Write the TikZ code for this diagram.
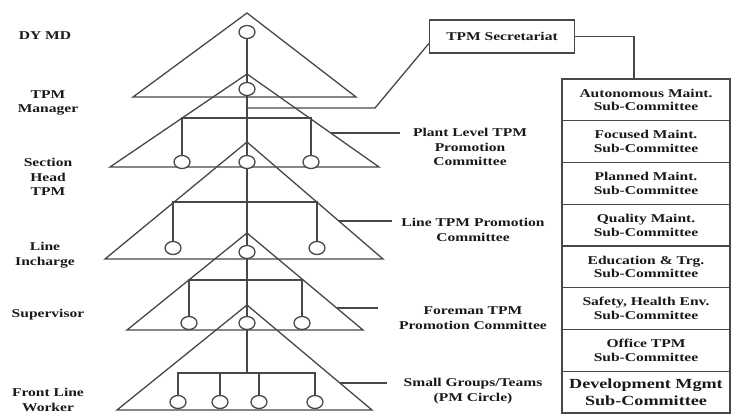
\documentclass[tikz,border=0pt]{standalone}
\usepackage{fontspec}
\setmainfont{Liberation Serif}[FakeStretch=1.3]
\usetikzlibrary{shapes.geometric}

\begin{document}
\begin{tikzpicture}[x=1bp, y=-1bp, line width=1.3bp, color=black!72,
    memb/.style={ellipse, draw, fill=white, minimum width=16bp, minimum height=13bp, inner sep=0pt},
    rank/.style={align=center, text=black!90, font=\bfseries\fontsize{12}{14.5}\selectfont},
    sub/.style={draw, minimum width=168bp, minimum height=41.75bp, inner sep=0pt, align=center,
                text=black!90, font=\bfseries\fontsize{12}{14}\selectfont}]
            \useasboundingbox (0,0) rectangle (734,417);

            % levels
            \draw (247,13)  -- (133,97)  -- (356,97)  -- cycle;
            \draw (247,74)  -- (110,167) -- (379,167) -- cycle;
            \draw (247,142) -- (105,259) -- (383,259) -- cycle;
            \draw (247,233) -- (127,330) -- (363,330) -- cycle;
            \draw (247,305) -- (117,410) -- (372,410) -- cycle;

            \node[memb] (m1) at (247,32)  {};
            \node[memb] (m2) at (247,89)  {};
            \node[memb] (m3) at (247,162) {};
            \node[memb] (m4) at (247,252) {};
            \node[memb] (m5) at (247,323) {};

            \node[memb] (s2l) at (182,162) {};
            \node[memb] (s2r) at (311,162) {};
            \node[memb] (s3l) at (173,248) {};
            \node[memb] (s3r) at (317,248) {};
            \node[memb] (s4l) at (189,323) {};
            \node[memb] (s4r) at (302,323) {};

            \node[memb] (f1) at (178,402) {};
            \node[memb] (f2) at (220,402) {};
            \node[memb] (f3) at (259,402) {};
            \node[memb] (f4) at (315,402) {};

            \coordinate (k)  at (247,108);
            \coordinate (b2) at (247,118);
            \coordinate (b3) at (247,202);
            \coordinate (b4) at (247,280);
            \coordinate (b5) at (247,373);

            \draw (m1) -- (m2);
            \draw (m2) -- (m3);
            \draw (m3) -- (m4);
            \draw (m4) -- (m5);
            \draw (m5) -- (b5);

            \draw (s2l) |- (b2) -| (s2r);
            \draw (s3l) |- (b3) -| (s3r);
            \draw (s4l) |- (b4) -| (s4r);
            \draw (f1) |- (b5) -| (f4);
            \draw (f2) -- (f2 |- b5);
            \draw (f3) -- (f3 |- b5);

            % ranks
            \node[rank] (r1) at (45,36)  {DY MD};
            \node[rank] (r2) at (48,103) {TPM\\Manager};
            \node[rank] (r3) at (48,177) {Section\\Head\\TPM};
            \node[rank] (r4) at (45,255) {Line\\Incharge};
            \node[rank] (r5) at (48,315) {Supervisor};
            \node[rank] (r6) at (48,400) {Front Line\\Worker};

            % committees
            \node[rank] (c2) at (470,147) {Plant Level TPM\\Promotion\\Committee};
            \node[rank] (c3) at (473,230) {Line TPM Promotion\\Committee};
            \node[rank] (c4) at (473,318) {Foreman TPM\\Promotion Committee};
            \node[rank] (c5) at (473,391) {Small Groups/Teams\\(PM Circle)};

            \coordinate (e2) at (331,133);
            \coordinate (e3) at (339,221);
            \coordinate (e4) at (337,308);
            \coordinate (e5) at (340,383);
            \coordinate (t2) at (400,133);
            \coordinate (t3) at (392,221);
            \coordinate (t4) at (378,308);
            \coordinate (t5) at (387,383);
            \draw (e2) -- (t2);
            \draw (e3) -- (t3);
            \draw (e4) -- (t4);
            \draw (e5) -- (t5);

            % secretariat and sub-committees
            \node[rank, draw, minimum width=145bp, minimum height=33bp] (sec) at (502,36.5) {TPM Secretariat};
            \coordinate (bend) at (375,108);
            \draw (k) -- (bend) -- ([yshift=-7bp]sec.west);

            \node[sub] (a1) at (646,99.9)  {Autonomous Maint.\\Sub-Committee};
            \node[sub] (a2) at (646,141.6) {Focused Maint.\\Sub-Committee};
            \node[sub] (a3) at (646,183.4) {Planned Maint.\\Sub-Committee};
            \node[sub] (a4) at (646,225.1) {Quality Maint.\\Sub-Committee};
            \node[sub] (a5) at (646,266.9) {Education \& Trg.\\Sub-Committee};
            \node[sub] (a6) at (646,308.6) {Safety, Health Env.\\Sub-Committee};
            \node[sub] (a7) at (646,350.4) {Office TPM\\Sub-Committee};
            \node[sub, font=\bfseries\fontsize{14}{17}\selectfont] (a8) at (646,392.1) {Development Mgmt\\Sub-Committee};

            \draw (sec.east) -| ([xshift=-12bp]a1.north);
        \end{tikzpicture}
\end{document}
